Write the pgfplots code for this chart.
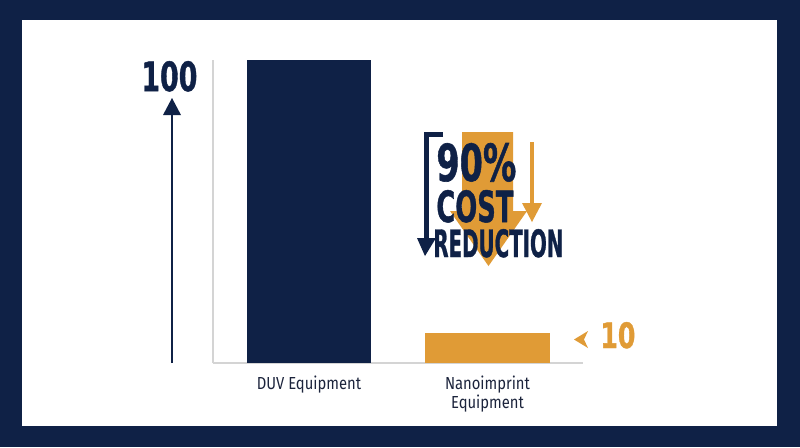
\documentclass[border=0pt]{standalone}
\usepackage{pgfplots}
\pgfplotsset{compat=1.18}
\usepackage{graphicx}
\usepackage{fontspec}
\setmainfont{Fira Sans}
\newfontfamily\bigfont[FakeBold=1.2]{DejaVu Sans}
\newfontfamily\labelfont[FakeStretch=0.85]{Fira Sans}
\definecolor{navy}{RGB}{15,33,70}
\definecolor{gold}{RGB}{224,155,54}
\definecolor{axgray}{RGB}{212,212,212}
\definecolor{labcol}{RGB}{28,36,60}
\begin{document}
\begin{tikzpicture}
\begin{scope}[x=0.5pt,y=-0.5pt]
\fill[navy] (0,0) rectangle (800,447);
\fill[white] (22,20) rectangle (777,426);
\end{scope}
\begin{axis}[at={(106.5pt,-181.5pt)}, anchor=south west, scale only axis,
  width=185pt, height=151.5pt,
  xmin=-0.538, xmax=1.535, ymin=0, ymax=100,
  axis x line*=bottom, axis y line*=left,
  axis line style={-, draw=axgray, line width=0.6pt},
  ytick=\empty, xtick={0,1},
  xticklabels={DUV Equipment,{Nanoimprint\\Equipment}},
  major tick length=0pt,
  xticklabel style={align=center, text=labcol, font=\labelfont\fontsize{8.7pt}{8pt}\selectfont, yshift=-3pt},
  clip=false]
\addplot[ybar, bar width=0.695, bar shift=0pt, fill=navy, draw=none] coordinates {(0,100)};
\addplot[ybar, bar width=0.695, bar shift=0pt, fill=gold, draw=none] coordinates {(1,10)};
\end{axis}
\begin{scope}[x=0.5pt,y=-0.5pt]
% left arrow and 100
\draw[navy, line width=0.8pt] (172,363) -- (172,112);
\fill[navy] (163,115) -- (181,115) -- (172,98) -- cycle;
\node[anchor=base west, inner sep=0, text=navy, text depth=0pt] at (141,91) {\resizebox{28pt}{15pt}{\bigfont\bfseries 100}};
% 10 annotation
\fill[gold] (574,339.5) -- (588,331) -- (584,339.5) -- (588,348) -- cycle;
\node[anchor=base west, inner sep=0, text=gold, text depth=0pt] at (600,348) {\resizebox{17.5pt}{13pt}{\bigfont\bfseries 10}};
% background arrows
\fill[gold] (462,132) -- (513,132) -- (513,211) -- (527,211) -- (488.5,266) -- (450,211) -- (462,211) -- cycle;
\draw[gold, line width=2pt] (531.5,142) -- (531.5,205);
\fill[gold] (522,203) -- (542,203) -- (532,222) -- cycle;
\draw[navy, line width=2.5pt] (443,134.5) -- (426.5,134.5) -- (426.5,240);
\fill[navy] (417,238) -- (436,238) -- (425,256) -- cycle;
% headline
\node[anchor=base west, inner sep=0, text=navy, text depth=0pt] at (436,181) {\resizebox{40pt}{19pt}{\bigfont\bfseries 90\%}};
\node[anchor=base west, inner sep=0, text=navy, text depth=0pt] at (436,222) {\resizebox{38.5pt}{16pt}{\bigfont\bfseries COST}};
\node[anchor=base west, inner sep=0, text=navy, text depth=0pt] at (433,257) {\resizebox{65pt}{14pt}{\bigfont\bfseries REDUCTION}};
\end{scope}
\pgfresetboundingbox
\path[use as bounding box] (0,0) rectangle (400pt,-223.5pt);
\end{tikzpicture}
\end{document}
